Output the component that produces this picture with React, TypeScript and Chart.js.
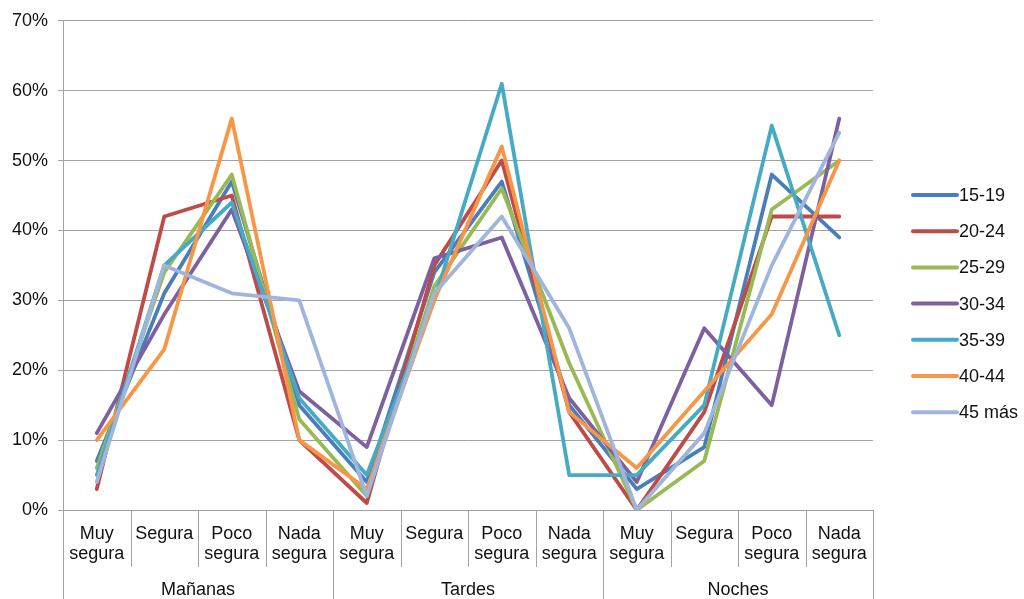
import React, { useEffect, useRef } from "react";
import { Chart, registerables } from "chart.js";

Chart.register(...registerables);

// Sub-categories (two-line labels) and the period groups they belong to
const categories: string[][] = [
  ["Muy", "segura"], ["Segura"], ["Poco", "segura"], ["Nada", "segura"],
  ["Muy", "segura"], ["Segura"], ["Poco", "segura"], ["Nada", "segura"],
  ["Muy", "segura"], ["Segura"], ["Poco", "segura"], ["Nada", "segura"],
];
const groups: string[] = ["Mañanas", "Tardes", "Noches"];
const groupSize = 4;

// Percentages by age band
const seriesNames: string[] = ["15-19", "20-24", "25-29", "30-34", "35-39", "40-44", "45 más"];
const s1519: number[] = [7, 31, 47, 15, 4, 34, 47, 15, 3, 9, 48, 39];
const s2024: number[] = [3, 42, 45, 10, 1, 35, 50, 14, 0, 14, 42, 42];
const s2529: number[] = [6, 34, 48, 13, 2, 32, 46, 21, 0, 7, 43, 50];
const s3034: number[] = [11, 28, 43, 17, 9, 36, 39, 16, 4, 26, 15, 56];
const s3539: number[] = [5, 35, 44, 16, 5, 30, 61, 5, 5, 15, 55, 25];
const s4044: number[] = [10, 23, 56, 10, 3, 30, 52, 14, 6, 17, 28, 50];
const s45mas: number[] = [4, 35, 31, 30, 2, 31, 42, 26, 0, 11, 35, 54];
const seriesValues: number[][] = [s1519, s2024, s2529, s3034, s3539, s4044, s45mas];

const colors: string[] = ["#4a7ebb", "#be4b48", "#98b954", "#7d60a0", "#46aac5", "#f79646", "#a0b5dc"];

const FONT = "'Liberation Sans', Arial, Helvetica, sans-serif";
const AXIS_GRAY = "#a3a3a3";
const X_AXIS_HEIGHT = 89;

// Draws the category separators, the period labels and the legend
const decorations = {
  id: "decorations",
  afterDraw(chart: any) {
    const ctx = chart.ctx;
    const x = chart.scales.x;
    const area = chart.chartArea;
    const h = chart.height;
    const n = categories.length;
    const step = (x.getPixelForValue(1) - x.getPixelForValue(0));

    ctx.save();
    ctx.strokeStyle = AXIS_GRAY;
    ctx.lineWidth = 1;
    for (let i = 0; i <= n; i++) {
      const px = Math.round(x.getPixelForValue(0) - step / 2 + i * step) + 0.5;
      const isGroup = i % groupSize === 0;
      ctx.beginPath();
      ctx.moveTo(px, area.bottom);
      ctx.lineTo(px, isGroup ? h : area.bottom + 57);
      ctx.stroke();
    }

    ctx.fillStyle = "#111";
    ctx.font = `18px ${FONT}`;
    ctx.textAlign = "center";
    ctx.textBaseline = "middle";
    groups.forEach((g, gi) => {
      const a = x.getPixelForValue(gi * groupSize);
      const b = x.getPixelForValue(gi * groupSize + groupSize - 1);
      ctx.fillText(g, (a + b) / 2, area.bottom + 80);
    });

    // legend
    const lx0 = 913;
    const lx1 = 957;
    const rowGap = 36.2;
    const top = 195;
    ctx.textAlign = "left";
    ctx.lineCap = "round";
    seriesNames.forEach((name, i) => {
      const y = top + i * rowGap;
      ctx.strokeStyle = colors[i];
      ctx.lineWidth = 4;
      ctx.beginPath();
      ctx.moveTo(lx0, y);
      ctx.lineTo(lx1, y);
      ctx.stroke();
      ctx.fillStyle = "#111";
      ctx.fillText(name, lx1 + 2, y + 1);
    });
    ctx.restore();
  },
};

export default function App() {
  const ref = useRef<HTMLCanvasElement | null>(null);

  useEffect(() => {
    if (!ref.current) return;
    const chart = new Chart(ref.current, {
      type: "line",
      data: {
        labels: categories,
        datasets: seriesNames.map((name, i) => ({
          label: name,
          data: seriesValues[i],
          borderColor: colors[i],
          backgroundColor: colors[i],
          borderWidth: 3.8,
          borderCapStyle: "round" as const,
          borderJoinStyle: "round" as const,
          pointRadius: 0,
          tension: 0,
          fill: false,
          order: -i,
        })),
      },
      options: {
        animation: false,
        responsive: false,
        maintainAspectRatio: false,
        layout: { padding: { left: 2, right: 151, top: 11, bottom: 0 } },
        plugins: {
          legend: { display: false },
          tooltip: { enabled: false },
        },
        scales: {
          x: {
            type: "category",
            offset: true,
            afterFit: (scale: any) => {
              scale.height = X_AXIS_HEIGHT;
            },
            grid: { display: true, drawOnChartArea: false, drawTicks: false, offset: true, color: AXIS_GRAY },
            border: { display: true, color: AXIS_GRAY, width: 1 },
            ticks: {
              autoSkip: false,
              maxRotation: 0,
              minRotation: 0,
              padding: 14,
              color: "#111",
              font: { family: FONT, size: 18, lineHeight: 1.1 },
            },
          },
          y: {
            min: 0,
            max: 70,
            ticks: {
              stepSize: 10,
              padding: 10,
              color: "#111",
              font: { family: FONT, size: 18 },
              callback: (v: any) => `${v}%`,
            },
            grid: { color: AXIS_GRAY, lineWidth: 1, tickLength: 5, drawTicks: true },
            border: { display: true, color: AXIS_GRAY, width: 1 },
          },
        },
      },
      plugins: [decorations],
    });
    return () => chart.destroy();
  }, []);

  return (
    <div style={{ position: "fixed", left: 0, top: 0, width: 1024, height: 599, background: "#fff" }}>
      <canvas ref={ref} width={1024} height={599} style={{ display: "block" }} />
    </div>
  );
}
